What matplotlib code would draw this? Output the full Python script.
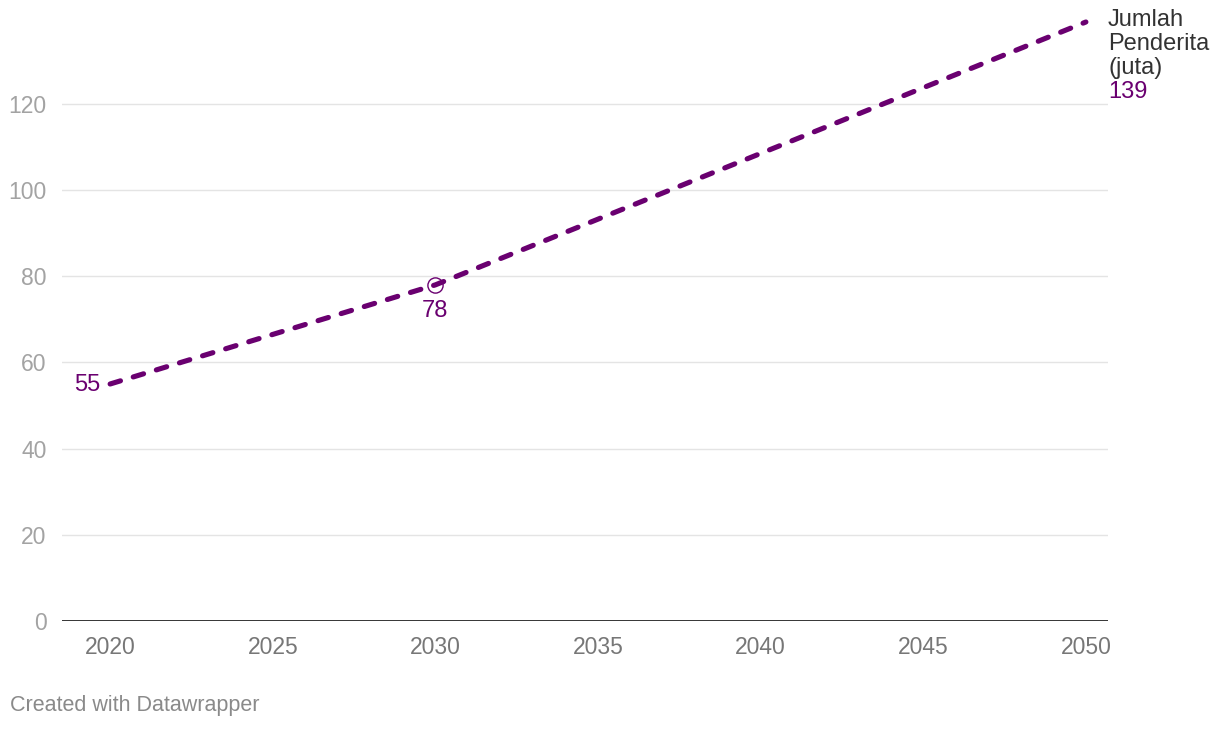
import matplotlib.pyplot as plt

years = [2020, 2030, 2040, 2050]
penderita = [55, 78, 108.5, 139]
x_ticks = [2020, 2025, 2030, 2035, 2040, 2045, 2050]
y_ticks = [0, 20, 40, 60, 80, 100, 120]
series_label = ['Jumlah', 'Penderita', '(juta)']

purple = '#6a0070'

plt.rcParams['font.family'] = ['Liberation Sans', 'DejaVu Sans']

W, H = 1220, 730
fig = plt.figure(figsize=(W / 100, H / 100), dpi=100)
ax = fig.add_axes([62 / W, 1 - 621 / H, 1046 / W, 599 / H])

# garis putus-putus utama
ax.plot(years, penderita, color=purple, lw=3.7, linestyle=(0, (2.1, 2.6)),
        dash_capstyle='round', zorder=4, clip_on=False)
# penanda titik 2030
ax.scatter([years[1]], [penderita[1]], s=120, facecolor='white',
           edgecolor=purple, linewidth=1, zorder=3)

ax.text(years[0] - 0.3, penderita[0] - 0.3, str(penderita[0]), color=purple,
        fontsize=17, ha='right', va='center')
ax.text(years[1], penderita[1] - 3.6, str(penderita[1]), color=purple,
        fontsize=17, ha='center', va='top')

# label seri di ujung kanan
for i, t in enumerate(series_label):
    fig.text(1108 / W, 1 - (20 + 24 * i) / H, t, color='#333333', fontsize=17,
             ha='left', va='center')
fig.text(1108 / W, 1 - 92 / H, str(penderita[-1]), color=purple, fontsize=17,
         ha='left', va='center')

ax.set_xlim(2018.52, 2050.68)
ax.set_ylim(0, 139)
ax.set_xticks(x_ticks)
ax.set_yticks(y_ticks)
ax.tick_params(length=0)
ax.tick_params(axis='y', labelcolor='#a3a3a3', labelsize=16.5, pad=11)
ax.tick_params(axis='x', labelcolor='#777777', labelsize=16.5, pad=11)

for y in y_ticks[1:]:
    ax.axhline(y, color='#e4e4e4', lw=1, zorder=1)
ax.axhline(0, color='#222222', lw=2, zorder=2)

for s in ax.spines.values():
    s.set_visible(False)

fig.text(10 / W, 1 - 706 / H, 'Created with Datawrapper', color='#8a8a8a',
         fontsize=15.5, ha='left', va='center')

fig.savefig('out.png', dpi=100)
